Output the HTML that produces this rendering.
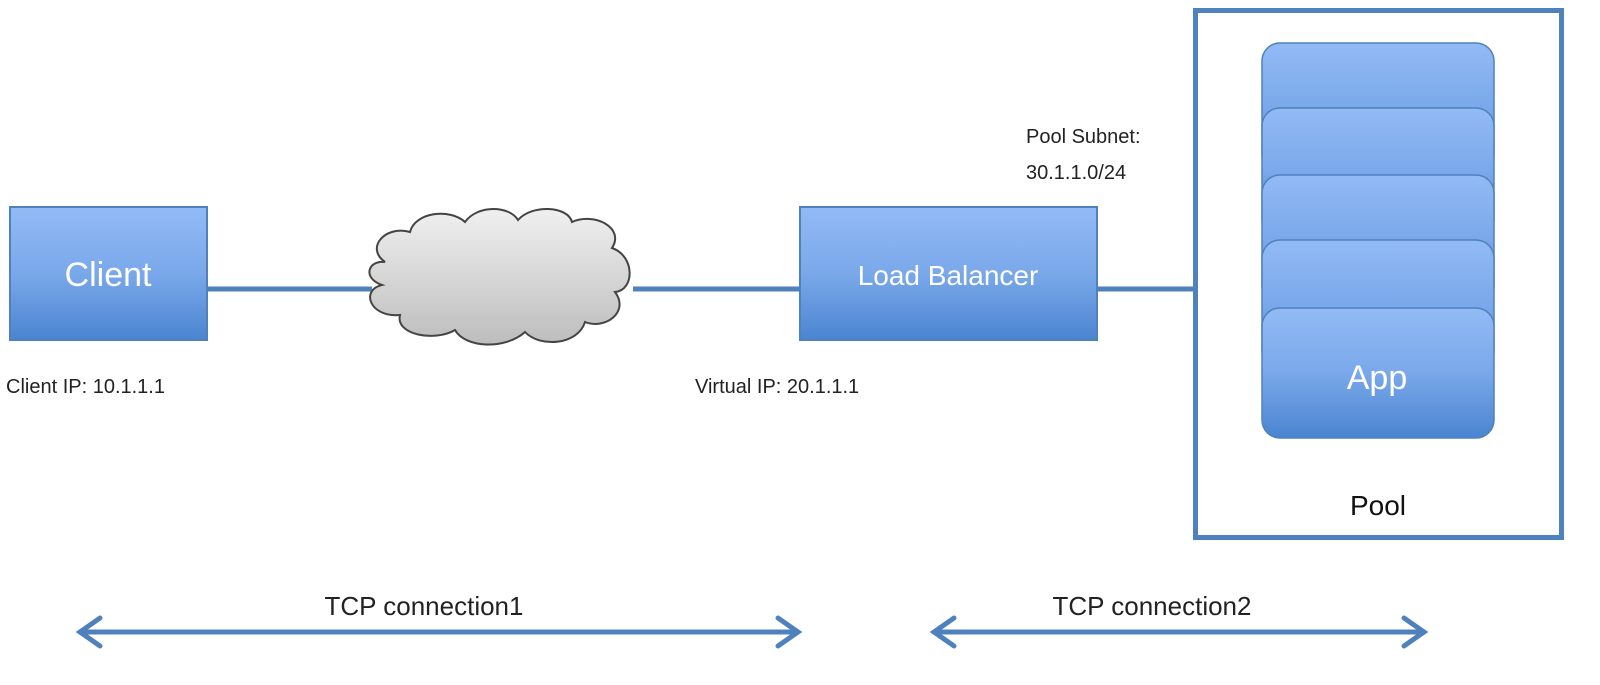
<!DOCTYPE html>
<html><head><style>
body{margin:0;width:1600px;height:680px;background:#fff;overflow:hidden;font-family:"Liberation Sans",sans-serif}
</style></head><body>
<svg width="1600" height="680" viewBox="0 0 1600 680" xmlns="http://www.w3.org/2000/svg">
<defs>
<linearGradient id="b" x1="0" y1="0" x2="0" y2="1"><stop offset="0" stop-color="#92bbf5"/><stop offset="0.5" stop-color="#7aa8ea"/><stop offset="1" stop-color="#4a85d0"/></linearGradient>
<linearGradient id="c" x1="0" y1="0" x2="0" y2="1"><stop offset="0" stop-color="#f0f0f0"/><stop offset="1" stop-color="#bdbdbd"/></linearGradient>
</defs>
<g stroke="#4f81bd" stroke-width="5">
<line x1="207" y1="289" x2="372" y2="289"/>
<line x1="633" y1="289" x2="800" y2="289"/>
<line x1="1097" y1="289" x2="1195" y2="289"/>
</g>
<rect x="10" y="207" width="197" height="133" fill="url(#b)" stroke="#4f81bd" stroke-width="2"/>
<text x="108" y="286" fill="#fff" font-size="34" text-anchor="middle">Client</text>
<rect x="800" y="207" width="297" height="133" fill="url(#b)" stroke="#4f81bd" stroke-width="2"/>
<text x="948" y="285" fill="#fff" font-size="28" text-anchor="middle">Load Balancer</text>
<path d="M385,262 C365,248 385,225 410,232 C415,212 450,208 465,222 C478,204 510,206 518,220 C532,204 568,206 572,222 C595,212 625,228 612,248 C635,256 635,290 615,292 C630,312 605,330 585,322 C578,345 540,348 525,332 C505,350 465,348 455,330 C435,342 395,335 400,315 C370,318 360,290 382,285 C362,278 368,260 385,262 Z" fill="url(#c)" stroke="#444" stroke-width="2"/>
<rect x="1195.5" y="10.5" width="366" height="527" fill="#fff" stroke="#4f81bd" stroke-width="5"/>
<g stroke="#4f81bd" stroke-width="1.5" fill="url(#b)">
<rect x="1262" y="43" width="232" height="130" rx="18"/>
<rect x="1262" y="108" width="232" height="130" rx="18"/>
<rect x="1262" y="175" width="232" height="130" rx="18"/>
<rect x="1262" y="240" width="232" height="130" rx="18"/>
<rect x="1262" y="308" width="232" height="130" rx="18"/>
</g>
<text x="1377" y="389" fill="#fff" font-size="34" text-anchor="middle">App</text>
<text x="1378" y="515" fill="#111" font-size="28" text-anchor="middle">Pool</text>
<g fill="#222" font-size="20">
<text x="6" y="393">Client IP: 10.1.1.1</text>
<text x="695" y="393">Virtual IP: 20.1.1.1</text>
<text x="1026" y="143">Pool Subnet:</text>
<text x="1026" y="179">30.1.1.0/24</text>
</g>
<g fill="#222" font-size="26" text-anchor="middle">
<text x="424" y="615">TCP connection1</text>
<text x="1152" y="615">TCP connection2</text>
</g>
<g stroke="#4f81bd" stroke-width="5" fill="none" stroke-linecap="round">
<line x1="82" y1="632" x2="796" y2="632"/>
<polyline points="100,618 80,632 100,646"/>
<polyline points="778,618 798,632 778,646"/>
<line x1="936" y1="632" x2="1422" y2="632"/>
<polyline points="954,618 934,632 954,646"/>
<polyline points="1404,618 1424,632 1404,646"/>
</g>
</svg>
</body></html>
